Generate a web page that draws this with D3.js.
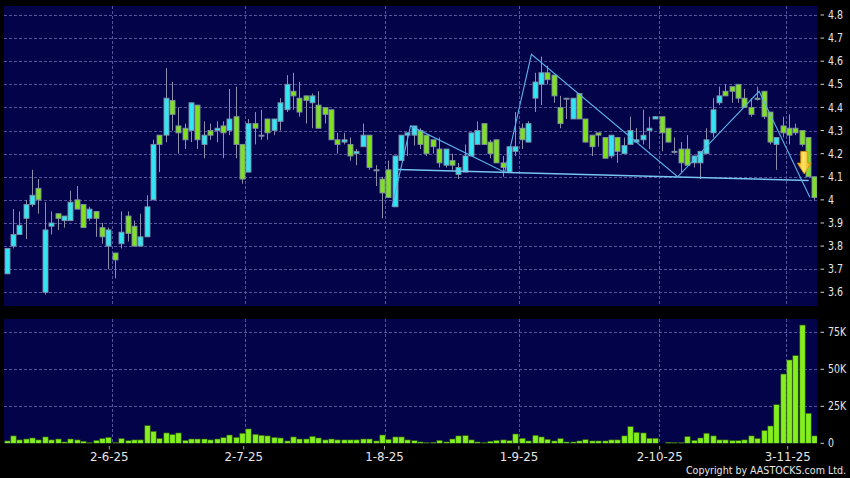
<!DOCTYPE html>
<html><head><meta charset="utf-8">
<script src="https://cdn.jsdelivr.net/npm/d3@7"></script>
<style>
html,body{margin:0;padding:0;background:#000;}
svg{display:block;}
text{font-family:"DejaVu Sans",sans-serif;fill:#e6e6e6;}
</style></head><body>
<svg id="c" width="850" height="478"></svg>
<script>
// ---- data (candle index 1..128, daily) ----
const opens  = [3.68,3.80,3.85,3.92,3.98,4.05,3.60,3.886,3.94,3.91,3.91,4.00,3.98,3.92,3.95,3.88,3.80,3.77,3.81,3.93,3.886,3.80,3.84,4.00,4.28,4.28,4.43,4.32,4.31,4.30,4.41,4.24,4.30,4.30,4.32,4.30,4.36,4.24,4.12,4.33,4.28,4.35,4.30,4.34,4.39,4.47,4.44,4.45,4.42,4.41,4.40,4.39,4.26,4.25,4.24,4.20,4.23,4.28,4.13,4.09,4.13,3.97,4.17,4.28,4.28,4.30,4.28,4.26,4.22,4.15,4.17,4.11,4.12,4.19,4.24,4.33,4.25,4.26,4.16,4.12,4.21,4.31,4.25,4.44,4.50,4.55,4.54,4.40,4.44,4.35,4.46,4.35,4.28,4.29,4.27,4.19,4.27,4.20,4.24,4.25,4.26,4.30,4.35,4.36,4.31,4.21,4.22,4.22,4.16,4.16,4.20,4.29,4.42,4.47,4.49,4.50,4.44,4.40,4.44,4.47,4.38,4.24,4.32,4.31,4.31,4.30,4.27,4.10];
const highs  = [3.79,3.96,3.95,4.00,4.13,4.09,3.99,3.95,3.94,3.93,4.04,4.06,3.98,3.97,3.95,3.90,3.88,3.77,3.95,3.95,3.91,3.94,4.02,4.26,4.28,4.57,4.51,4.40,4.33,4.42,4.41,4.34,4.33,4.34,4.34,4.48,4.49,4.24,4.35,4.38,4.39,4.35,4.35,4.44,4.54,4.55,4.51,4.45,4.46,4.47,4.40,4.39,4.29,4.29,4.27,4.22,4.33,4.28,4.15,4.10,4.17,4.19,4.28,4.29,4.32,4.31,4.28,4.26,4.27,4.22,4.20,4.16,4.24,4.29,4.34,4.33,4.26,4.26,4.19,4.23,4.38,4.33,4.34,4.55,4.62,4.58,4.54,4.45,4.44,4.44,4.46,4.35,4.28,4.29,4.27,4.28,4.27,4.27,4.36,4.31,4.39,4.36,4.36,4.36,4.31,4.27,4.25,4.28,4.19,4.21,4.31,4.44,4.49,4.50,4.49,4.50,4.48,4.44,4.49,4.47,4.38,4.27,4.36,4.37,4.33,4.30,4.27,4.10];
const lows   = [3.68,3.79,3.85,3.83,3.97,3.94,3.59,3.85,3.87,3.88,3.91,3.96,3.88,3.91,3.84,3.81,3.70,3.66,3.79,3.82,3.80,3.80,3.84,4.00,4.12,4.25,4.30,4.20,4.22,4.25,4.22,4.18,4.26,4.25,4.18,4.28,4.18,4.07,4.12,4.24,4.26,4.26,4.28,4.30,4.38,4.39,4.36,4.33,4.31,4.31,4.33,4.26,4.20,4.24,4.17,4.15,4.23,4.13,4.06,3.92,4.01,3.97,4.17,4.19,4.235,4.22,4.19,4.20,4.14,4.14,4.13,4.09,4.12,4.19,4.24,4.24,4.18,4.16,4.10,4.12,4.19,4.22,4.25,4.38,4.41,4.50,4.42,4.31,4.35,4.35,4.35,4.25,4.19,4.23,4.18,4.18,4.16,4.20,4.24,4.25,4.24,4.22,4.35,4.21,4.25,4.20,4.12,4.15,4.14,4.09,4.20,4.27,4.41,4.45,4.42,4.42,4.40,4.36,4.43,4.35,4.24,4.13,4.27,4.24,4.28,4.23,4.10,4.00];
const closes = [3.79,3.85,3.89,3.98,4.02,4.00,3.87,3.90,3.92,3.93,3.99,3.96,3.88,3.96,3.92,3.84,3.87,3.74,3.86,3.855,3.80,3.84,3.97,4.24,4.24,4.44,4.37,4.29,4.26,4.42,4.26,4.28,4.28,4.31,4.29,4.35,4.24,4.09,4.33,4.31,4.28,4.29,4.35,4.42,4.50,4.45,4.38,4.43,4.45,4.31,4.37,4.26,4.24,4.26,4.19,4.21,4.28,4.14,4.13,4.03,4.01,4.19,4.28,4.29,4.32,4.24,4.20,4.23,4.16,4.22,4.15,4.14,4.19,4.29,4.30,4.24,4.20,4.16,4.14,4.23,4.23,4.26,4.33,4.51,4.55,4.52,4.45,4.33,4.44,4.44,4.35,4.25,4.23,4.28,4.18,4.28,4.21,4.235,4.30,4.26,4.28,4.31,4.36,4.29,4.25,4.21,4.16,4.15,4.19,4.21,4.26,4.39,4.45,4.45,4.47,4.44,4.40,4.37,4.435,4.36,4.25,4.27,4.29,4.28,4.29,4.24,4.10,4.01];
const volumesK = [1.6,5,2.3,2.9,3.6,2.3,4.3,2.3,2.9,0.9,2.9,2.3,1.4,0.5,2,3.2,4,0.5,3.2,1.8,2.3,2.3,11.9,8.1,3.2,7,5.9,7,2,2.9,2.9,2.9,2.3,2.9,3.8,5.6,4,6.8,9.7,6.1,5.4,5,4,3.6,1.6,4.3,2.9,2.9,4.7,3.6,2.3,2.9,2.3,2.3,2.3,2.3,2.9,2.9,1.6,5.6,2.7,4.3,4.3,2.3,1.8,0.9,0.5,0.7,2,0.9,2.9,5,5.2,2.3,0.9,0.5,1.4,2,2.3,1.8,6.3,3.4,1.6,5.4,4.3,2.7,1.6,3.2,0.9,0.9,1.6,2.5,1.6,1.6,1.6,2.3,2.3,5,11.3,7.4,7,3.4,3.4,0,0.7,0.5,0.5,4.5,2,3.6,6.8,5,2.3,2.3,1.8,1.8,2.3,5,3.2,8.6,11.7,26.1,46.8,56.3,59.2,79.9,20.3,5];

const priceTicks = [3.6,3.7,3.8,3.9,4.0,4.1,4.2,4.3,4.4,4.5,4.6,4.7,4.8];
const priceTickLabels = ["3.6","3.7","3.8","3.9","4","4.1","4.2","4.3","4.4","4.5","4.6","4.7","4.8"];
const volTicks = [0,25,50,75];
const volTickLabels = ["0","25K","50K","75K"];
const monthStartIdx = [18,39,61,82,104,124];
const monthLabels = ["2-6-25","2-7-25","1-8-25","1-9-25","2-10-25","3-11-25"];

// drawn trend lines (fractional candle index, price)
const zigzagIdx   = [61.6,64.5,79.3,83.5,106.5,119.3,127.3];
const zigzagPrice = [3.97,4.32,4.12,4.63,4.10,4.47,4.01];
const necklineIdx   = [62.5,127.1];
const necklinePrice = [4.131,4.084];
const signalIdx = 126.4, signalTop = 4.21, signalTip = 4.112;

// ---- layout ----
const svg = d3.select("#c");
const P = {l:4, r:817, t:6, b:306};
const V = {l:4, r:817, t:319, b:443.5};
const N = opens.length;

const x = d3.scaleLinear().domain([0.5, N+0.5]).range([3.5, 817.6]);
const xLab = d3.scaleLinear().domain([17.5,123.5]).range([109.3,787.7]);
const y = d3.scaleLinear().domain([3.6,4.8]).range([292.3,15]);
const yv = d3.scaleLinear().domain([0,75]).range([443.3,332.3]);

const NAVY = "#03034a", GRID = "#5656a0";
const UP = "#33e4f2", DOWN = "#80e020", EDGE = "#7f90a4", WICK = "#8e8eaa";

svg.append("rect").attr("width",850).attr("height",478).attr("fill","#000");
svg.append("rect").attr("x",P.l).attr("y",P.t).attr("width",P.r-P.l).attr("height",P.b-P.t).attr("fill",NAVY);
svg.append("rect").attr("x",V.l).attr("y",V.t).attr("width",V.r-V.l).attr("height",V.b-V.t).attr("fill",NAVY);

const defs = svg.append("defs");
defs.append("clipPath").attr("id","cp").append("rect").attr("x",P.l).attr("y",P.t).attr("width",P.r-P.l).attr("height",P.b-P.t);
defs.append("clipPath").attr("id","cv").append("rect").attr("x",V.l).attr("y",V.t).attr("width",V.r-V.l).attr("height",V.b-V.t);
const gradA = defs.append("linearGradient").attr("id","ga").attr("x1",0).attr("x2",1).attr("y1",0).attr("y2",0);
gradA.append("stop").attr("offset","0%").attr("stop-color","#f0b000");
gradA.append("stop").attr("offset","45%").attr("stop-color","#ffe46a");
gradA.append("stop").attr("offset","100%").attr("stop-color","#e8a400");

// grid
const gp = svg.append("g").attr("stroke",GRID).attr("stroke-width",1).attr("stroke-dasharray","3,2").attr("shape-rendering","crispEdges");
gp.selectAll(".hp").data(priceTicks).join("line")
  .attr("x1",P.l).attr("x2",P.r).attr("y1",d=>Math.round(y(d))+0.5).attr("y2",d=>Math.round(y(d))+0.5);
gp.selectAll(".hv").data(volTicks.slice(1)).join("line")
  .attr("x1",V.l).attr("x2",V.r).attr("y1",d=>Math.round(yv(d))+0.5).attr("y2",d=>Math.round(yv(d))+0.5);
monthStartIdx.forEach(i=>{
  const gx = Math.round(x(i-0.5))+0.5;
  gp.append("line").attr("x1",gx).attr("x2",gx).attr("y1",P.t).attr("y2",P.b);
  gp.append("line").attr("x1",gx).attr("x2",gx).attr("y1",V.t).attr("y2",V.b);
});

// candles
const idx = d3.range(1, N+1);
const gc = svg.append("g").attr("clip-path","url(#cp)");
gc.selectAll(".w").data(idx).join("line")
  .attr("x1",i=>Math.round(x(i))+0.5).attr("x2",i=>Math.round(x(i))+0.5)
  .attr("y1",i=>y(highs[i-1])).attr("y2",i=>y(lows[i-1]))
  .attr("stroke",WICK).attr("stroke-width",1);
gc.selectAll(".b").data(idx).join("rect")
  .attr("x",i=>Math.round(x(i))+0.5-2.5).attr("width",5)
  .attr("y",i=>y(Math.max(opens[i-1],closes[i-1])))
  .attr("height",i=>Math.max(1,Math.abs(y(opens[i-1])-y(closes[i-1]))))
  .attr("fill",i=>{const o=opens[i-1],c=closes[i-1]; return c>o?UP:(c<o?DOWN:WICK);})
  .attr("stroke",EDGE).attr("stroke-width",0.9);

// trend lines
const line = d3.line().x(d=>x(d[0])).y(d=>y(d[1]));
gc.append("path").datum(necklineIdx.map((d,k)=>[d,necklinePrice[k]]))
  .attr("d",line).attr("fill","none").attr("stroke","#78c4ee").attr("stroke-width",1.5);
gc.append("path").datum(zigzagIdx.map((d,k)=>[d,zigzagPrice[k]]))
  .attr("d",line).attr("fill","none").attr("stroke","#5cb2e8").attr("stroke-width",1.1);

// signal arrow
{
  const cx = x(signalIdx), yt = y(signalTop), yb = y(signalTip);
  const headH = (yb-yt)*0.48;
  const pts = [[cx-3.6,yt],[cx+3.6,yt],[cx+3.6,yb-headH],[cx+7,yb-headH],[cx,yb],[cx-7,yb-headH],[cx-3.6,yb-headH]];
  svg.append("path").attr("d","M"+pts.map(p=>p.join(",")).join("L")+"Z")
    .attr("fill","url(#ga)").attr("stroke","#c88a00").attr("stroke-width",0.8);
}

// volume
svg.append("g").attr("clip-path","url(#cv)").selectAll("rect").data(idx).join("rect")
  .attr("x",i=>Math.round(x(i))+0.5-2.7).attr("width",5.4)
  .attr("y",i=>yv(volumesK[i-1])).attr("height",i=>Math.max(0,yv(0)-yv(volumesK[i-1])))
  .attr("fill","#84ee1e").attr("stroke","#2e5a0c").attr("stroke-width",0.6);

// right axes
const ga = svg.append("g");
priceTicks.forEach((d,k)=>{
  const yy = y(d);
  ga.append("line").attr("x1",820.5).attr("x2",824).attr("y1",yy).attr("y2",yy).attr("stroke","#d0d0d0");
  ga.append("text").attr("transform",`translate(828,${yy}) scale(0.82,1)`).attr("dy","0.36em")
    .attr("font-size",11.5).text(priceTickLabels[k]);
});
volTicks.forEach((d,k)=>{
  const yy = yv(d);
  ga.append("line").attr("x1",820.5).attr("x2",824).attr("y1",yy).attr("y2",yy).attr("stroke","#d0d0d0");
  ga.append("text").attr("transform",`translate(828,${yy}) scale(0.82,1)`).attr("dy","0.36em")
    .attr("font-size",11.5).text(volTickLabels[k]);
});

// bottom axis
monthStartIdx.forEach((i,k)=>{
  const tx = xLab(i-0.5);
  ga.append("line").attr("x1",tx).attr("x2",tx).attr("y1",446).attr("y2",449.5).attr("stroke","#a8a8a8");
  ga.append("text").attr("x",tx).attr("y",461.2).attr("text-anchor","middle").attr("font-size",11.8).text(monthLabels[k]);
});

// copyright (condensed by horizontal scale)
svg.append("text").attr("transform","translate(846,473.5) scale(0.85,1)").attr("text-anchor","end")
  .attr("font-size",11.2).text("Copyright by AASTOCKS.com Ltd.");
</script>
</body></html>
